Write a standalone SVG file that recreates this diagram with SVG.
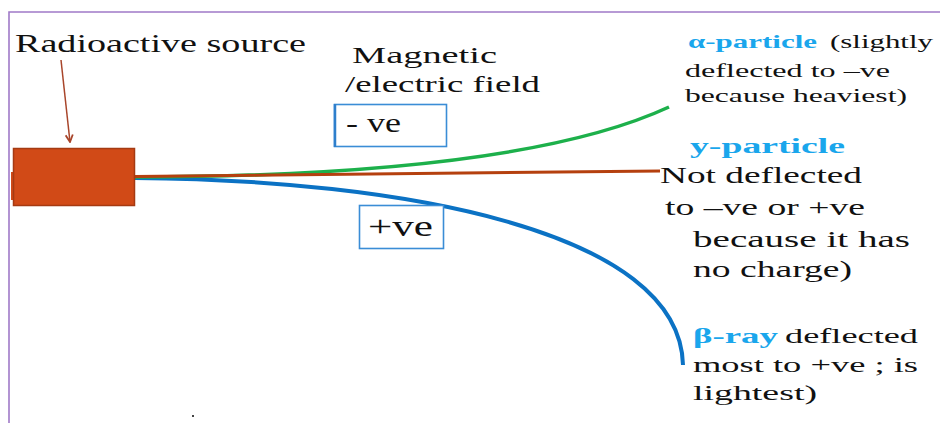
<svg xmlns="http://www.w3.org/2000/svg" width="940" height="423" viewBox="0 0 940 423">
<style>
  .t { fill: #111; }
  .b { fill: #1AA6EC; font-weight: bold; }
  .box { fill: #fff; stroke: #3A8DD6; stroke-width: 1.6; }
  .beam { fill: none; stroke-linecap: butt; }
</style>
<defs>
  <marker id="ah" viewBox="0 0 10 10" refX="9" refY="5" markerWidth="9" markerHeight="9" orient="auto" markerUnits="userSpaceOnUse">
    <path d="M1,1 L9,5 L1,9" fill="none" stroke="#A8452A" stroke-width="2"/>
  </marker>
</defs>
<rect width="940" height="423" fill="#fff"/>
<g id="frame">
  <path d="M9,423 V12 H940" fill="none" stroke="#A07AC8" stroke-width="1.6"/>
</g>
<g id="connectors">
  <line x1="61" y1="60" x2="70" y2="142" stroke="#A8452A" stroke-width="1.5" marker-end="url(#ah)"/>
  <path class="beam" d="M135,178 C400,180 680,230 683,365" stroke="#0B72C4" stroke-width="4"/>
  <path class="beam" d="M135,177 Q520,176 669,107" stroke="#1DB04B" stroke-width="3.5"/>
  <path class="beam" d="M135,176.5 L660,171" stroke="#B5400F" stroke-width="3"/>
</g>
<g font-family="Liberation Serif, DejaVu Serif, serif">
<g id="source">
  <rect x="11" y="172" width="4" height="28" fill="#D14A17"/>
  <rect x="13.5" y="148.5" width="121" height="57" fill="#D14A17" stroke="#A53A12" stroke-width="1.5"/>
  <text class="t" x="15" y="52" font-size="25" textLength="291" lengthAdjust="spacingAndGlyphs">Radioactive source</text>
</g>
<g id="field-label">
  <text class="t" x="352" y="63" font-size="23" textLength="145" lengthAdjust="spacingAndGlyphs">Magnetic</text>
  <text class="t" x="345" y="92" font-size="23" textLength="195" lengthAdjust="spacingAndGlyphs">/electric field</text>
</g>
<g id="neg-plate">
  <rect class="box" x="334.5" y="104.5" width="112" height="42"/>
  <line x1="335" y1="104" x2="335" y2="147" stroke="#2E7FCC" stroke-width="2.5"/>
  <text class="t" x="346" y="132" font-size="27" textLength="55" lengthAdjust="spacingAndGlyphs">- ve</text>
</g>
<g id="pos-plate">
  <rect class="box" x="359.5" y="205.5" width="84" height="43"/>
  <text class="t" x="368" y="236" font-size="30" textLength="65" lengthAdjust="spacingAndGlyphs">+ve</text>
</g>
<g id="alpha-label">
  <text class="b" x="688" y="48" font-size="19" textLength="129" lengthAdjust="spacingAndGlyphs">α-particle</text>
  <text class="t" x="830" y="48" font-size="19" textLength="103" lengthAdjust="spacingAndGlyphs">(slightly</text>
  <text class="t" x="685" y="77" font-size="19" textLength="205" lengthAdjust="spacingAndGlyphs">deflected to –ve</text>
  <text class="t" x="685" y="102" font-size="19" textLength="222" lengthAdjust="spacingAndGlyphs">because heaviest)</text>
</g>
<g id="gamma-label">
  <text class="b" x="690" y="153" font-size="21" textLength="155" lengthAdjust="spacingAndGlyphs">y-particle</text>
  <text class="t" x="660" y="183" font-size="23" textLength="202" lengthAdjust="spacingAndGlyphs">Not deflected</text>
  <text class="t" x="665" y="215" font-size="23" textLength="200" lengthAdjust="spacingAndGlyphs">to –ve or +ve</text>
  <text class="t" x="693" y="247" font-size="23" textLength="217" lengthAdjust="spacingAndGlyphs">because  it has</text>
  <text class="t" x="693" y="277" font-size="23" textLength="159" lengthAdjust="spacingAndGlyphs">no charge)</text>
</g>
<g id="beta-label">
  <text class="b" x="693" y="343" font-size="22" textLength="85" lengthAdjust="spacingAndGlyphs">β-ray</text>
  <text class="t" x="785" y="343" font-size="22" textLength="133" lengthAdjust="spacingAndGlyphs">deflected</text>
  <text class="t" x="693" y="372" font-size="22" textLength="225" lengthAdjust="spacingAndGlyphs">most to +ve ; is</text>
  <text class="t" x="693" y="400" font-size="22" textLength="124" lengthAdjust="spacingAndGlyphs">lightest)</text>
</g>
</g>
<rect x="192" y="415" width="2" height="2" fill="#444"/>
</svg>
